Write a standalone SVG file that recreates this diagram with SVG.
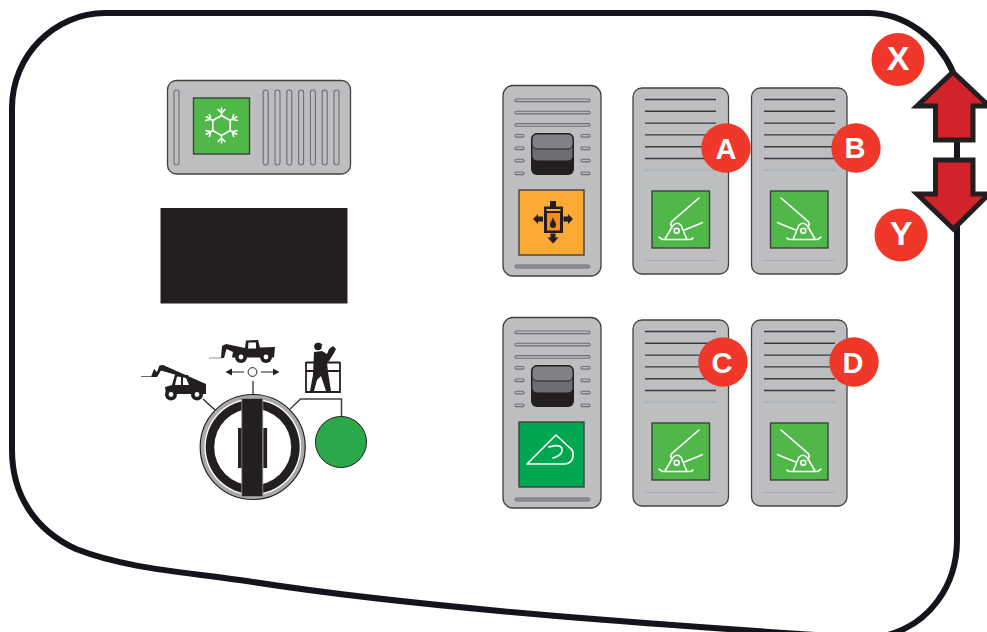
<svg xmlns="http://www.w3.org/2000/svg" width="987" height="632" viewBox="0 0 987 632">
<style>
.panel{fill:#bcbec0;stroke:#414042;stroke-width:1.3}
.blk{fill:#231f20;stroke:none}
.ln{stroke:#3a3a3c;stroke-width:1.4;fill:none}
.lt{stroke:#a7a9ac;stroke-width:1;fill:none}
.slot{fill:#bcbec0;stroke:#6d6e71;stroke-width:1.1}
.wh{stroke:#fff;stroke-width:1.6;fill:none;stroke-linecap:round;stroke-linejoin:round}
.box{stroke:#414042;stroke-width:1.4}
.lab{font-family:"Liberation Sans",Arial,sans-serif;font-weight:700;fill:#fff;text-anchor:middle}
.red{fill:#ef3829}
.arrow{fill:#d2232a;stroke:#231f20;stroke-width:5;stroke-linejoin:miter}
.wire{stroke:#231f20;stroke-width:1.2;fill:none}
</style>
<defs>
<g id="pedal">
<rect class="box" x="0" y="0" width="57.5" height="57" fill="#50b848"/>
<path class="wh" d="M47,7 L19.7,30.7 Q18,33 20,37"/>
<path class="wh" d="M13,48 L20.5,35 Q24.7,30 29,34 L34.7,48"/>
<circle class="wh" cx="24.7" cy="39.7" r="2.4"/>
<path class="wh" d="M50.3,31.7 L32.3,39"/>
<path class="wh" d="M7,46 Q9,48.5 12,48.5 L38,48.5 Q40,48.5 41,47"/>
</g>
<g id="pedalM"><use href="#pedal" transform="translate(57.5,0) scale(-1,1)"/></g>
<g id="lines6">
<path class="ln" d="M0,0H71M0,11.8H71M0,23.6H71M0,35.4H71M0,47.2H71M0,59H71"/>
<path class="lt" d="M0,70.6H71M0,161H71"/>
</g>
<g id="rocker">
<rect class="slot" x="0" y="0" width="75" height="2.6" rx="1.3"/>
<rect class="slot" x="0" y="12.3" width="75" height="2.6" rx="1.3"/>
<rect class="slot" x="0" y="24.6" width="75" height="2.6" rx="1.3"/>
<g class="slot">
<rect x="0" y="35.5" width="9" height="2.6" rx="1.3"/><rect x="0" y="48" width="9" height="2.6" rx="1.3"/><rect x="0" y="60.3" width="9" height="2.6" rx="1.3"/><rect x="0" y="73" width="9" height="2.6" rx="1.3"/>
<rect x="66" y="35.5" width="9" height="2.6" rx="1.3"/><rect x="66" y="48" width="9" height="2.6" rx="1.3"/><rect x="66" y="60.3" width="9" height="2.6" rx="1.3"/><rect x="66" y="73" width="9" height="2.6" rx="1.3"/>
</g>
<rect x="16" y="34" width="43" height="42" rx="6" fill="#231f20"/>
<rect x="17" y="35" width="41" height="27" rx="5" fill="#6d6e71" stroke="#231f20" stroke-width="1"/>
<rect x="17" y="35" width="41" height="15" rx="5" fill="#808285" stroke="#231f20" stroke-width="1"/>
</g>
</defs>

<path id="outline" d="M957,225 L957,540 C957,585 930,625 884,636 L884,640 L830,636 C650,624 420,608 253,582 C190,572 130,570 76,549 C35,530 12,495 12,450 L12,108 C12,55 55,13 105,13 L868,13 C905,13 938,38 953,72 M957,138 L957,162" fill="none" stroke="#16131a" stroke-width="6"/>

<g id="heater-switch">
<rect class="panel" x="167.5" y="80.5" width="183" height="93.5" rx="9"/>
<rect class="slot" x="174" y="90" width="5" height="75" rx="2.5"/>
<g class="slot">
<rect x="263.2" y="90" width="5" height="75" rx="2.5"/><rect x="275" y="90" width="5" height="75" rx="2.5"/><rect x="286.8" y="90" width="5" height="75" rx="2.5"/><rect x="298.6" y="90" width="5" height="75" rx="2.5"/><rect x="310.4" y="90" width="5" height="75" rx="2.5"/><rect x="322.2" y="90" width="5" height="75" rx="2.5"/><rect x="334" y="90" width="5" height="75" rx="2.5"/>
</g>
<rect class="box" x="193.5" y="98" width="56" height="56" fill="#50b848"/>
<g transform="translate(221.5,125.5)" class="wh">
<path d="M0,-10 L8.7,-5 L8.7,5 L0,10 L-8.7,5 L-8.7,-5 Z"/>
<path d="M0,-10 V-17.5 M-3.5,-16 L0,-12.5 L3.5,-16"/>
<path d="M0,-10 V-17.5 M-3.5,-16 L0,-12.5 L3.5,-16" transform="rotate(60)"/>
<path d="M0,-10 V-17.5 M-3.5,-16 L0,-12.5 L3.5,-16" transform="rotate(120)"/>
<path d="M0,-10 V-17.5 M-3.5,-16 L0,-12.5 L3.5,-16" transform="rotate(180)"/>
<path d="M0,-10 V-17.5 M-3.5,-16 L0,-12.5 L3.5,-16" transform="rotate(240)"/>
<path d="M0,-10 V-17.5 M-3.5,-16 L0,-12.5 L3.5,-16" transform="rotate(300)"/>
</g>
</g>

<g id="display"><rect class="blk" x="160.5" y="208" width="187" height="95.5"/></g>

<g id="connectors">
<path class="wire" d="M203,399 L215,410"/>
<path class="wire" d="M253,381 V395"/>
<path d="M290,409 L300.5,399 H341.5 V417" fill="none" stroke="#414042" stroke-width="1.5"/>
<path class="wire" d="M229,372 H244 M261,372 H276"/>
<path class="blk" d="M225.5,372 L232,368.5 V375.5 Z M279.5,372 L273,368.5 V375.5 Z"/>
</g>

<g id="mode-boom">
<path d="M141,376.5 H152" stroke="#58595b" stroke-width="0.9" fill="none"/>
<path class="blk" d="M151,377 L154,369 L157,372 L159.5,365.5 L163,365 L206,384 L206,394 L166,394 L165,387 L172,385 L175,374.5 L188,375 L190,379 L161,370.5 L157,377 Z"/>
<path d="M177,376.5 L175,385 H181 V377 Z M183,377.5 V385 H189 L186,378 Z" fill="#fff"/>
<circle class="blk" cx="171" cy="394.5" r="6"/><circle cx="171" cy="394.5" r="2.4" fill="#fff"/>
<circle class="blk" cx="197" cy="394.5" r="6"/><circle cx="197" cy="394.5" r="2.4" fill="#fff"/>
</g>

<g id="mode-travel">
<path d="M209,358 H222" stroke="#939598" stroke-width="1" fill="none"/>
<path class="blk" d="M221,358 L222,346 L226,344 L245,348 L246,340.5 L258,340 L260,347.5 L275,347 L274,357.5 L232,357.5 L233,352 L226.5,349 L224,358 Z"/>
<path d="M248.5,342.5 H256 V348.5 H248 Z" fill="#fff"/>
<circle class="blk" cx="241" cy="357" r="6"/><circle cx="241" cy="357" r="2.4" fill="#fff"/>
<circle class="blk" cx="266" cy="357" r="6"/><circle cx="266" cy="357" r="2.4" fill="#fff"/>
</g>
<g id="mode-center"><circle cx="252.5" cy="372" r="4.4" fill="#fff" stroke="#231f20" stroke-width="1"/></g>

<g id="mode-platform">
<path d="M306,362.5 H340 M306,371 H340 M306,392 H340 M306,362 V393 M340,362 V393" fill="none" stroke="#231f20" stroke-width="1.8"/>
<circle class="blk" cx="318" cy="346.5" r="3.8"/>
<path class="blk" d="M314,346 L319,342.5 L323,345 Z"/>
<path class="blk" d="M314,352 L322,351 L327,354 L329,349 L333,346 L336,349 L334,353 L329,361 L327,362 L328,372 L331,391 L326,391 L321,376 L317,380 L314,391 L310,391 L313,375 Z"/>
</g>

<g id="key-switch">
<circle cx="252.7" cy="447" r="52.5" fill="#a7a9ac" stroke="#231f20" stroke-width="1.2"/>
<circle cx="252.7" cy="447" r="48.4" fill="#fff"/>
<circle cx="252.7" cy="447" r="47" fill="#231f20"/>
<circle cx="252.7" cy="447" r="38.5" fill="#fff"/>
<rect x="241.8" y="398.5" width="21" height="98" fill="#231f20" stroke="#939598" stroke-width="0.8"/>
<rect class="blk" x="238" y="428" width="3.6" height="40"/>
<rect class="blk" x="263.3" y="428" width="3.8" height="40"/>
</g>

<g id="lamp"><circle cx="341" cy="442" r="25.5" fill="#2aa84a" stroke="#231f20" stroke-width="1"/></g>

<g id="rocker-orange">
<rect class="panel" x="503" y="85.5" width="98" height="190.5" rx="10"/>
<use href="#rocker" x="515" y="99"/>
<rect x="515" y="265" width="75" height="3" rx="1.5" fill="#939598" stroke="#6d6e71"/>
<rect class="box" x="519" y="190" width="65" height="65" fill="#fbaa33"/>
<path class="blk" d="M550,201 H556 V206.5 H563 V233 H544 V206.5 H550 Z"/>
<rect x="546.5" y="209" width="14" height="2" fill="#fbaa33"/>
<rect x="547" y="213" width="13" height="17.5" fill="#f68b1f"/>
<path class="blk" d="M553,217 C554,221 556,222 556,225 A3,3 0 0 1 550,225 C550,222 552,221 553,217 Z"/>
<path class="blk" d="M533,219 L538,214 V216.5 H543 V221.5 H538 V224 Z M573,219 L568,214 V216.5 H563.5 V221.5 H568 V224 Z M553,243.5 L547.5,237.5 H550.5 V233.5 H555.5 V237.5 H558.5 Z"/>
</g>

<g id="rocker-green">
<rect class="panel" x="503" y="317.5" width="98" height="190.5" rx="10"/>
<use href="#rocker" x="515" y="331"/>
<rect x="515" y="498" width="75" height="3" rx="1.5" fill="#939598" stroke="#6d6e71"/>
<rect class="box" x="519" y="422" width="65" height="65" fill="#00a650"/>
<path class="wh" d="M556,435 L527,464 L565,464 Q574,463 573,453 Q573,450 570,448 Z"/>
<path class="wh" d="M549,447 Q563,443 562,451 Q561,456 553,458"/>
</g>

<g id="switch-a">
<rect class="panel" x="633" y="88" width="95.5" height="186" rx="9"/>
<use href="#lines6" x="645" y="99.5"/>
<use href="#pedal" x="652" y="191"/>
</g>
<g id="switch-b">
<rect class="panel" x="751.5" y="88" width="95.5" height="186" rx="9"/>
<use href="#lines6" x="764" y="99.5"/>
<use href="#pedalM" x="770.5" y="191"/>
</g>
<g id="switch-c">
<rect class="panel" x="633" y="320" width="95.5" height="186" rx="9"/>
<use href="#lines6" x="645" y="331.5"/>
<use href="#pedal" x="652" y="423"/>
</g>
<g id="switch-d">
<rect class="panel" x="751.5" y="320" width="95.5" height="186" rx="9"/>
<use href="#lines6" x="764" y="331.5"/>
<use href="#pedalM" x="770.5" y="423"/>
</g>

<g id="arrow-up"><path class="arrow" d="M953,72 L989,106 L973,106 L973,140 L935.5,140 L935.5,106 L917,106 Z"/></g>
<g id="arrow-down"><path class="arrow" d="M935.5,160 L973,160 L973,194 L989,194 L953.5,229 L917,194 L935.5,194 Z"/></g>

<g id="label-a"><circle class="red" cx="726" cy="148" r="24.7"/><text class="lab" x="726" y="158.5" font-size="29">A</text></g>
<g id="label-b"><circle class="red" cx="856" cy="148" r="24.7"/><text class="lab" x="855" y="158" font-size="29">B</text></g>
<g id="label-c"><circle class="red" cx="723" cy="362" r="24.7"/><text class="lab" x="722" y="372.5" font-size="29">C</text></g>
<g id="label-d"><circle class="red" cx="854" cy="362" r="24.7"/><text class="lab" x="853" y="372.5" font-size="29">D</text></g>
<g id="label-x"><circle class="red" cx="898" cy="59.5" r="26.5"/><text class="lab" x="898" y="69.5" font-size="34">X</text></g>
<g id="label-y"><circle class="red" cx="901" cy="235" r="26.5"/><text class="lab" x="901" y="245" font-size="34">Y</text></g>
</svg>
